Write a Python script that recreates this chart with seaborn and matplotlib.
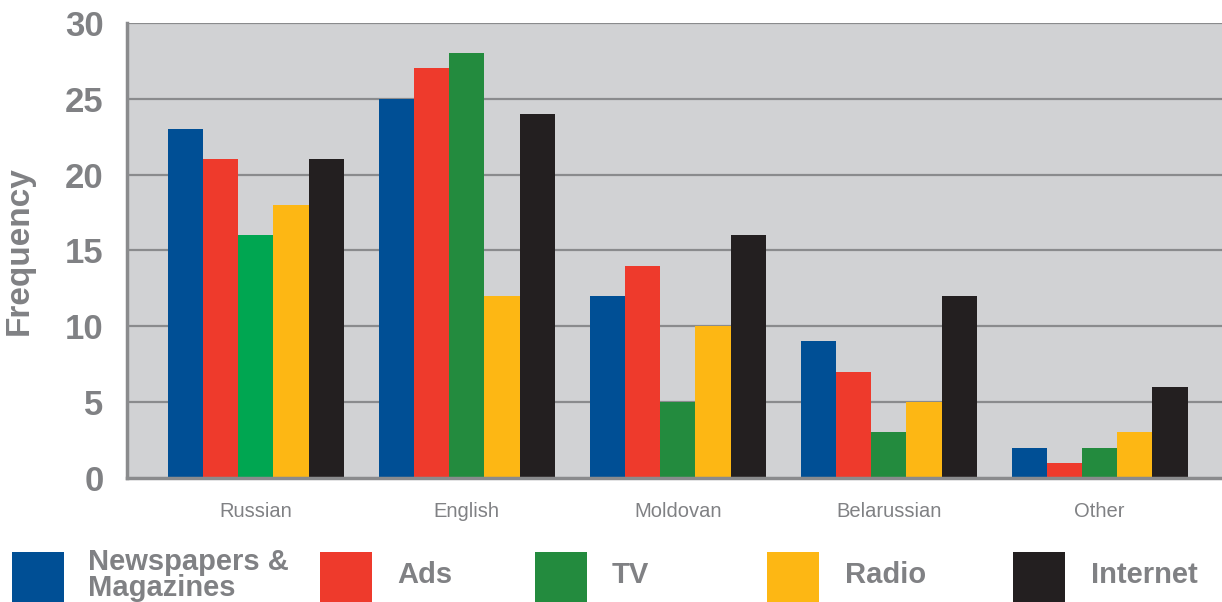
import matplotlib
matplotlib.use("Agg")
import matplotlib.pyplot as plt
from matplotlib.patches import Rectangle
import seaborn as sns
import pandas as pd

languages = ["Russian", "English", "Moldovan", "Belarussian", "Other"]
sources = ["Newspapers &\nMagazines", "Ads", "TV", "Radio", "Internet"]
newspapers = [23, 25, 12, 9, 2]
ads = [21, 27, 14, 7, 1]
tv = [16, 28, 5, 3, 2]
radio = [18, 12, 10, 5, 3]
internet = [21, 24, 16, 12, 6]
colors = ["#004f95", "#ee3a2c", "#238b3e", "#fdb714", "#231f20"]
tv_russian_color = "#00a651"

rows = []
for src, vals in zip(sources, [newspapers, ads, tv, radio, internet]):
    for lang, v in zip(languages, vals):
        rows.append({"Language": lang, "Source": src, "Frequency": v})
df = pd.DataFrame(rows)

sns.set_theme(style="white")
plt.rcParams["font.family"] = ["Liberation Sans", "DejaVu Sans"]

grey = "#808184"
fig = plt.figure(figsize=(12.22, 6.02), dpi=100)
ax = fig.add_axes([0.104, 0.206, 0.896, 0.756])
ax.set_facecolor("#d1d2d4")

sns.barplot(data=df, x="Language", y="Frequency", hue="Source",
            hue_order=sources, order=languages, palette=colors,
            width=0.835, gap=0, errorbar=None, linewidth=0,
            saturation=1, ax=ax, legend=False, zorder=3)
ax.containers[2][0].set_facecolor(tv_russian_color)

ax.set_ylim(0, 30)
ax.set_xlim(-0.61, 4.58)
ax.set_yticks(range(0, 31, 5))
for y in range(5, 31, 5):
    ax.axhline(y, color="#8a8b8d", lw=1.6, zorder=1)

for s in ["top", "right"]:
    ax.spines[s].set_visible(False)
for s in ["left", "bottom"]:
    ax.spines[s].set_color("#8a8b8d")
    ax.spines[s].set_linewidth(2.5)
    ax.spines[s].set_zorder(4)

ax.tick_params(axis="y", length=11, width=1.6, color="#8a8b8d", pad=6,
               labelsize=25, labelcolor=grey)
for t in ax.get_yticklabels():
    t.set_fontweight("bold")
ax.tick_params(axis="x", length=0, pad=17, labelsize=14.5, labelcolor=grey)
ax.set_xlabel("")
ax.set_ylabel("Frequency", fontsize=24, fontweight="bold", color=grey)
ax.yaxis.set_label_coords(-0.084, 0.5)

# Legend row along the bottom edge
W, H = 1222, 602
patch_x = [12, 320, 535, 767, 1013]
text_x = [88, 397, 612, 845, 1091]
for px, tx, lab, c in zip(patch_x, text_x, sources, colors):
    fig.add_artist(Rectangle((px / W, 0), 52 / W, 50 / H, transform=fig.transFigure,
                             facecolor=c, edgecolor="none"))
    fig.text(tx / W, 1 - 575 / H, lab, fontsize=21, fontweight="bold", color=grey,
             va="center", ha="left", linespacing=0.95)

fig.savefig("out.png", dpi=100)
